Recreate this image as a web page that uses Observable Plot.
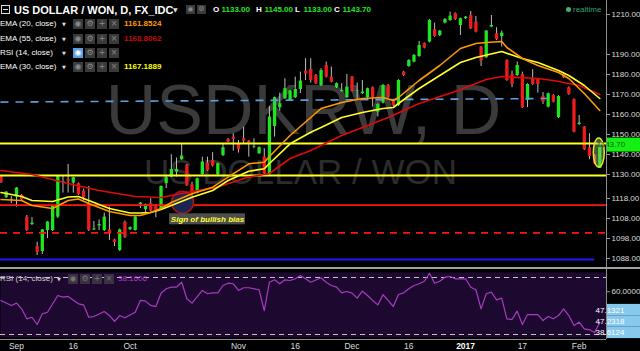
<!DOCTYPE html>
<html><head><meta charset="utf-8">
<script src="https://cdn.jsdelivr.net/npm/d3@7"></script>
<script src="https://cdn.jsdelivr.net/npm/@observablehq/plot@0.6"></script>
<style>
html,body{margin:0;padding:0;background:#000;}
#root{position:relative;width:640px;height:351px;background:#000;overflow:hidden;font-family:"Liberation Sans",Arial,sans-serif;color:#fff;}
.abs{position:absolute;white-space:nowrap;line-height:12px;height:12px;}
</style></head><body>
<div id="root"></div>
<script>
// ---------- DATA ----------
const startIndex = -3; // trading-day index of first candle (Sep 1 2016 = 0)
const open = [
 1129,1118.4,1117.3,1118.7,1119.5,1108.7,1105,1094,1091.5,1102,
 1102,1108.7,1126,1127.4,1125.7,1125.4,1121.7,1115.4,1102.3,1104.3,
 1102,1102.3,1097.3,1092,1106.2,1102.4,1102,1115,1112.4,1115.4,
 1114.5,1112.5,1125.4,1128.7,1131.2,1137.4,1134.5,1124.9,1120.7,1130,
 1135.7,1137,1129.9,1139.5,1147.5,1148.7,1145,1147.9,1146.7,1143.5,
 1140.4,1138.7,1130,1154,1163.4,1167.9,1167,1168.4,1172.5,1181.6,
 1182.5,1179.5,1174.5,1184.5,1178.7,1173.4,1171.4,1168.4,1178.7,1171.5,
 1170.4,1168.4,1173.4,1161.2,1165.7,1174.5,1166.7,1164.5,1181.2,1184,
 1186.2,1189,1195.4,1196.2,1202.4,1199.5,1205.7,1207,1210.4,1204.5,
 1207.9,1209.5,1206.2,1193.7,1188.4,1203.7,1200.4,1199,1187,1180,
 1179.5,1180,1167,1177.5,1177.5,1169,1163.7,1169.5,1158.4,1180,
 1173.4,1167.4,1155,1153.7,1143.4,1139.5,1133];
const high = [
 1129.5,1121.5,1119,1123.5,1120,1109.5,1108.5,1096.2,1102.5,1106.5,
 1114.5,1129.5,1129,1135,1128.7,1125.8,1122.7,1124,1106.5,1107.3,
 1110.7,1113.7,1097.7,1102.7,1106.7,1103.8,1109,1116,1115.2,1117.9,
 1115,1124.3,1129.5,1139.9,1138.2,1145,1135,1126.2,1128.2,1138.7,
 1138.7,1140.9,1135.7,1145.4,1148,1150.4,1147,1153.7,1147,1147.9,
 1143.8,1142.9,1164,1168.7,1170.7,1177.9,1172,1178.7,1181.2,1187.9,
 1187.9,1180,1182.9,1186.2,1183.7,1175.8,1175.4,1180,1179,1175.7,
 1177,1173.2,1173.8,1165.4,1175,1175,1167,1177.4,1181.6,1187.4,
 1190,1196.5,1195.8,1207.4,1205.7,1202,1208,1211.2,1210.8,1208.2,
 1209,1211.5,1209,1194,1202,1209.5,1203.4,1201.7,1187.4,1181.7,
 1186.2,1181.2,1175.4,1182.4,1177.9,1171,1170.7,1169.9,1169.4,1180.4,
 1173.8,1167.8,1159.5,1154,1150.4,1140,1145];
const low = [
 1125.5,1118,1115.5,1113.7,1117,1101.5,1104.5,1089.5,1090,1098,
 1101.5,1108,1120.7,1120.7,1120.7,1119.6,1117,1101.5,1102,1102,
 1101.5,1097,1094,1091.5,1098,1102,1101.7,1113,1110.7,1111.3,
 1108.4,1112,1123,1128.3,1128.7,1137,1124,1118.7,1120.3,1129.7,
 1131.6,1133.7,1129.5,1139,1145.8,1141.7,1140.7,1145.4,1138.7,1142.9,
 1140,1130,1129.5,1148.7,1161.7,1167.5,1166.5,1168,1170.5,1177,
 1175.7,1175,1174,1178.3,1175.8,1173,1171.2,1168,1171.3,1167,
 1170,1168,1163.7,1158.7,1165.3,1168.3,1164,1164,1179,1183.6,
 1185.8,1188.6,1192.8,1195.8,1198.6,1199,1205.3,1206.6,1207,1199.5,
 1207.5,1202.5,1200.8,1184,1188,1203.4,1197,1193.7,1176.6,1173.4,
 1179,1163,1163.4,1174.6,1170.7,1165,1163.3,1165.8,1158,1178,
 1169.6,1150.8,1154.6,1142,1137.4,1135,1133];
const close = [
 1126,1121.2,1117.6,1123.2,1117.5,1102,1105.7,1091,1102.3,1106.2,
 1114,1129,1126.4,1126.7,1128.4,1120,1118.4,1102,1102.8,1105,
 1108.7,1100.7,1096,1102.3,1098.4,1103.4,1108.7,1115.7,1114.9,1111.7,
 1111.2,1124,1128.4,1132.5,1132.5,1139.2,1124.5,1121.2,1127.9,1136.2,
 1132,1134.2,1135.4,1143.4,1146.2,1147.5,1142.4,1146.7,1145.7,1143.8,
 1143.4,1130.4,1158.7,1168.4,1165.4,1172.9,1171.7,1172.5,1176.7,1180.2,
 1177,1175.4,1182,1178.7,1176.2,1175.4,1172,1173.7,1171.7,1171.8,
 1171.2,1172.9,1168.4,1165,1174.5,1168.7,1164.5,1177,1179.5,1187,
 1189.5,1194.5,1193.2,1207,1199,1201.7,1207.5,1209.2,1207.5,1207.9,
 1208.7,1202.9,1201.2,1186.7,1201.7,1204.5,1197.4,1200.7,1177,1175,
 1184.5,1163.4,1175,1175,1175,1166.2,1170.4,1166.2,1169,1178.4,
 1170,1151.2,1155.7,1142.4,1139,1135.4,1143.7];

// EMA values: [trading-day index, value]
const ema20 = [[-3,1117.5],[1,1117],[3,1114.5],[7,1113],[10,1117],[12,1117.75],[14,1115.5],[18,1111.5],[22,1109.5],[24,1109.5],
 [26,1111],[28,1113],[30,1116],[34,1120.35],[38,1123.65],[41,1128.65],[45,1135.35],[48,1136.15],[49,1139],[53,1149.5],
 [57,1158.5],[59,1163],[63,1166],[67,1168],[71,1168.5],[73,1167],[74,1168.5],[78,1177],[82,1184.5],[86,1193],
 [89,1195.5],[91,1196],[94,1196.5],[95,1193.5],[98,1188],[101,1184.5],[105,1181],[107,1178],[110,1170.5],[113,1162]];
const ema30 = [[-3,1121],[1,1119],[3,1117],[7,1116.5],[10,1118.75],[12,1119],[14,1117],[18,1113],[22,1110.75],[24,1110.75],
 [26,1111],[28,1112.5],[30,1114.5],[34,1118.65],[38,1122],[41,1127],[45,1131.65],[48,1132.85],[49,1135.5],[53,1145.35],
 [57,1151.15],[59,1153.5],[63,1158.5],[67,1161],[71,1163],[73,1163.5],[74,1165.5],[78,1173],[82,1179.5],[86,1186],
 [89,1188.5],[94,1191.5],[98,1188],[101,1186],[105,1182],[107,1179.5],[110,1174.5],[113,1168]];
const ema55 = [[-3,1132],[3,1130],[10,1125.5],[16,1122],[23,1119],[28,1118.5],[32,1120.5],[39,1123.7],[45,1128.7],[49,1130.5],
 [53,1138],[57,1142],[63,1149.5],[72,1158.5],[78,1165.5],[85,1171.5],[91,1177.5],[94,1179],[101,1178],[104,1177],
 [109,1174.5],[113,1170]];
const rsi = [[-3,53.9],[-1,50.4],[0,52],[1,48],[2,41],[3,42.1],[4,37],[5,44.5],[6,45.6],[8,57.4],[9,56.2],[10,56.7],
 [12,51.5],[13,50.8],[14,42.1],[15,42.6],[17,46.1],[18,43.3],[19,39.3],[20,43.3],[21,41.7],[23,45.6],[24,53.9],[25,53.4],
 [26,50.4],[27,49.6],[28,59],[29,62.1],[30,63.2],[31,63.2],[32,66.7],[33,55.1],[34,52],[36,60.9],[37,58.6],[38,59.2],
 [39,59.2],[40,64.4],[41,66],[42,65.6],[43,60.9],[44,62.8],[45,62.8],[47,61.4],[48,46.8],[49,66.7],[50,68.4],[51,65.6],
 [52,68.4],[53,67.9],[54,69.1],[55,71.4],[56,69.1],[57,66.7],[59,69.8],[60,66.7],[61,64.4],[62,63.2],[63,59.2],[64,60.2],
 [65,59],[66,55.5],[67,60.4],[68,57.4],[69,53.9],[70,50.8],[71,57.9],[72,53.9],[73,49.6],[74,58.1],[75,59.2],[76,62.1],
 [77,64.4],[78,65.6],[79,67.4],[80,73],[81,66],[82,67.4],[83,70.2],[84,70.7],[85,69.1],[86,69.1],[87,69.1],[88,63.2],
 [89,61.4],[90,48],[91,58.6],[92,59.7],[93,54.3],[94,55.5],[95,41],[96,40.5],[97,46.4],[98,37],[99,44],[101,44],
 [102,39.8],[103,42.6],[104,41],[105,43.3],[106,48],[107,43.3],[108,36.3],[109,38.6],[110,34],[111,33.3],[112,31.4],[113,38.4]];

// drawn levels
const yellowLevels = [1145.5, 1129.5];
const redLevels = [1114.7];
const redDashedLevels = [1100.8];
const blueTrend = [{x1: -3.1, y1: 1166.2, x2: 103, y2: 1168}];
const blueLevel = [{x1: -3.1, x2: 112, y: 1087.5}];
const rsiBands = [70, 30];

// annotation
const bullishMark = [{i: 32.16, p: 1116.15}];
const bullishBox = [{x1: 29.64, x2: 44.36, y1: 1104.85, y2: 1110.35}];
const bullishLabel = [{i: 37, p: 1107.6, text: "Sign of bullish bias"}];
const highlightCenter = [112.9, 1140.8];

// axes
const xDomain = [-3.1, 114.3];
const priceTicks = [1210,1190,1180,1170,1160,1150,1140,1130,1118,1108,1098,1088];
const xTicks = [0,11,22,43,54,65,76,87,98,109];
const xTickLabels = ["Sep","16","Oct","Nov","16","Dec","16","2017","17","Feb"];
const rsiTicks = [60];

// legend texts
const title = "US DOLLAR / WON, D, FX_IDC";
const ohlcLetters = ["O","H","L","C"];
const indicatorNames = ["EMA (20, close)","EMA (55, close)","RSI (14, close)","EMA (30, close)"];
const indicatorValues = ["1161.8524","1168.8062","","1167.1889"];
const rsiLegendValue = "38.1606";
const rsiLabelTexts = ["47.1321","47.2318","38.6124"];
const rsiLabelFirst = 47.1321;

// ---------- BUILD ----------
const candles = open.map((o, k) => ({i: startIndex + k, o, h: high[k], l: low[k], c: close[k]}));
const up = candles.filter(d => d.c >= d.o);
const down = candles.filter(d => d.c < d.o);
const toPts = a => a.map(([i, v]) => ({i, v}));
const FONT = "Liberation Sans, Arial, sans-serif";
const root = document.getElementById("root");

const priceSvg = Plot.plot({
  width: 640, height: 268, marginTop: 0, marginBottom: 0, marginLeft: 0, marginRight: 34,
  style: {background: "transparent", color: "#dcdcdc", fontFamily: FONT, fontSize: "8px", overflow: "visible"},
  x: {domain: xDomain, axis: null},
  y: {domain: [1083, 1217], axis: null},
  marks: [
    Plot.text(["USDKRW, D"], {text: d => d, frameAnchor: "top", dy: 133, lineAnchor: "bottom", fontSize: 70, fill: "#3a3a3a", fontFamily: FONT}),
    Plot.text(["US DOLLAR / WON"], {text: d => d, frameAnchor: "top", dx: -3, dy: 183, lineAnchor: "bottom", fontSize: 35, fill: "#2c2c2c", fontFamily: FONT}),
    Plot.ruleX(candles, {x: "i", y1: "l", y2: "h", stroke: "#bdbdbd", strokeWidth: 1}),
    Plot.ruleX(up, {x: "i", y1: "o", y2: "c", stroke: "#1ee61e", strokeWidth: 3.3}),
    Plot.ruleX(down, {x: "i", y1: "o", y2: "c", stroke: "#ee1c1c", strokeWidth: 3.3}),
    Plot.ruleY(yellowLevels, {stroke: "#ffff1e", strokeWidth: 1.8}),
    Plot.ruleY(redLevels, {stroke: "#ff1414", strokeWidth: 1.8}),
    Plot.ruleY(redDashedLevels, {stroke: "#ff1414", strokeWidth: 1.8, strokeDasharray: "7,6"}),
    Plot.link(blueTrend, {x1: "x1", y1: "y1", x2: "x2", y2: "y2", stroke: "#5a9fe0", strokeWidth: 1.6, strokeDasharray: "8,7"}),
    Plot.ruleY(blueLevel, {y: "y", x1: "x1", x2: "x2", stroke: "#1a1aff", strokeWidth: 2}),
    Plot.dot(bullishMark, {x: "i", y: "p", r: 11, fill: "#1b2552", stroke: "#a81616", strokeWidth: 1.5}),
    Plot.line(toPts(ema55), {x: "i", y: "v", stroke: "#e00a0a", strokeWidth: 1.6}),
    Plot.line(toPts(ema30), {x: "i", y: "v", stroke: "#ffff2a", strokeWidth: 1.6}),
    Plot.line(toPts(ema20), {x: "i", y: "v", stroke: "#ff9a00", strokeWidth: 1.6}),
    Plot.rect(bullishBox, {x1: "x1", x2: "x2", y1: "y1", y2: "y2", fill: "#4d4d4d"}),
    Plot.text(bullishLabel, {x: "i", y: "p", text: "text", fill: "#ffff33", fontSize: 8, fontStyle: "italic", fontWeight: "bold", fontFamily: FONT}),
    Plot.axisY({anchor: "right", label: null, ticks: priceTicks, tickFormat: d => d.toFixed(2), tickSize: 3, tickPadding: 2, fontSize: 8, stroke: "#9a9a9a"})
  ]
});
priceSvg.style.position = "absolute"; priceSvg.style.left = "0px"; priceSvg.style.top = "0px";
root.appendChild(priceSvg);

{
  const xs = priceSvg.scale("x"), ys = priceSvg.scale("y");
  const g = d3.select(priceSvg).append("g");
  g.append("ellipse").attr("cx", xs.apply(highlightCenter[0])).attr("cy", ys.apply(highlightCenter[1]))
    .attr("rx", 5.5).attr("ry", 14.5).attr("fill", "rgba(150,205,120,0.45)").attr("stroke", "#e6e62a").attr("stroke-width", 1.5);
  const lastClose = close[close.length - 1];
  const yc = ys.apply(lastClose);
  g.append("rect").attr("x", 606).attr("y", yc - 9).attr("width", 34).attr("height", 14).attr("fill", "#14f014");
  g.append("text").attr("x", 611).attr("y", yc + 0.5).attr("fill", "#0b5a0b").attr("font-size", 8).attr("font-family", FONT).text(lastClose.toFixed(2));
}

const rsiSvg = Plot.plot({
  width: 640, height: 83, marginTop: 4, marginBottom: 14, marginLeft: 0, marginRight: 34,
  style: {background: "transparent", color: "#dcdcdc", fontFamily: FONT, fontSize: "8px", overflow: "visible"},
  x: {domain: xDomain, axis: null},
  y: {domain: [27.89, 73.51], axis: null},
  marks: [
    Plot.frame({fill: "#1d0930", stroke: "none"}),
    Plot.ruleY(rsiBands, {stroke: "#c4c4c4", strokeWidth: 1, strokeDasharray: "5,4"}),
    Plot.line(toPts(rsi), {x: "i", y: "v", stroke: "#a83cc0", strokeWidth: 1.2}),
    Plot.axisY({anchor: "right", label: null, ticks: rsiTicks, tickFormat: d => d.toFixed(4), tickSize: 3, tickPadding: 2, fontSize: 8, stroke: "#9a9a9a"}),
    Plot.axisX({anchor: "bottom", label: null, ticks: xTicks, tickFormat: d => xTickLabels[xTicks.indexOf(d)], tickSize: 0, tickPadding: 5, fontSize: 8.5})
  ]
});
rsiSvg.style.position = "absolute"; rsiSvg.style.left = "0px"; rsiSvg.style.top = "268px";
root.appendChild(rsiSvg);
d3.select(rsiSvg).selectAll("text").filter(function(){ return this.textContent === "2017"; })
  .attr("font-weight", "bold").attr("fill", "#ffffff");

{
  const ry = rsiSvg.scale("y");
  const g = d3.select(rsiSvg).append("g");
  const y0 = ry.apply(rsiLabelFirst);
  rsiLabelTexts.forEach((t, k) => {
    const cy = y0 + k * 11.4;
    g.append("rect").attr("x", 606).attr("y", cy - 5.7).attr("width", 34).attr("height", 11.4).attr("fill", "#86c8ee");
    g.append("text").attr("x", 610).attr("y", cy + 3).attr("fill", "#ffffff").attr("font-size", 8).attr("font-family", FONT).text(t);
  });
}

// ---------- FRAME LINES & LEGEND OVERLAY ----------
function put(html, left, top, css) {
  const d = document.createElement("div");
  d.className = "abs";
  d.innerHTML = html;
  d.style.left = left + "px"; d.style.top = top + "px";
  if (css) Object.assign(d.style, css);
  root.appendChild(d);
  return d;
}
function icon(left, top, size, bg, glyph, color) {
  return put(glyph, left, top, {width: size + "px", height: size + "px", background: bg, color: color,
    fontSize: (size - 2) + "px", lineHeight: size + "px", textAlign: "center", fontFamily: "DejaVu Sans, sans-serif"});
}
put("", 606, 0, {width: "1px", height: "339px", background: "#8c8c8c"});
put("", 0, 267, {width: "640px", height: "1.5px", background: "#a0a0a0"});
put("", 0, 338.5, {width: "606px", height: "1.2px", background: "#8c8c8c"});

// row 1
put("", 1, 5, {width: "7px", height: "7px", border: "1px solid #dddddd"});
put("", 3, 9, {width: "5px", height: "1px", background: "#dddddd"});
put(title, 14, 3.5, {fontSize: "11px", fontWeight: "bold", color: "#ffffff"});
put("▼", 173, 4, {fontSize: "6px", color: "#dddddd", fontFamily: "DejaVu Sans, sans-serif"});
icon(186, 5, 9, "#3a3a3a", "◉", "#8a8a8a");
icon(197, 5, 9, "#3a3a3a", "⚙", "#8a8a8a");
const lastK = close.length - 1;
const ohlcValues = [open[lastK], high[lastK], low[lastK], close[lastK]];
const ohlcLeft = [213, 256, 295, 334];
ohlcLetters.forEach((L, k) => {
  put(L, ohlcLeft[k], 4, {fontSize: "8px", fontWeight: "bold", color: "#ffffff"});
  put(ohlcValues[k].toFixed(2), ohlcLeft[k] + 8.5, 4, {fontSize: "8px", fontWeight: "bold", color: "#22e622"});
});
put("realtime", 573, 4, {fontSize: "8px", color: "#33a06a"});
put("", 565.5, 7, {width: "5px", height: "5px", borderRadius: "50%", background: "#3cb371"});

// indicator rows
const rowCenters = [24, 38.5, 53, 67];
const valueColors = ["#ff9d00", "#c40c0c", "#ffffff", "#ffff00"];
indicatorNames.forEach((name, k) => {
  const cy = rowCenters[k];
  put(name, 0, cy - 6, {fontSize: "8px", color: "#ffffff"});
  put("▼", 62, cy - 6, {fontSize: "5px", color: "#dddddd", fontFamily: "DejaVu Sans, sans-serif"});
  const glyphs = ["◉", "⚙", "+", "×"];
  glyphs.forEach((gl, j) => {
    const isEye = (k === 2 && j === 0);
    icon(73 + j * 12, cy - 5, 10, isEye ? "#5aa0e0" : "#3a3a3a", gl, isEye ? "#ffffff" : "#8a8a8a");
  });
  if (indicatorValues[k]) put(indicatorValues[k], 124, cy - 6, {fontSize: "8px", fontWeight: "bold", color: valueColors[k]});
});

// RSI pane legend
put(indicatorNames[2], 0, 273, {fontSize: "8px", color: "#cfcfcf"});
put("▼", 57, 273, {fontSize: "5px", color: "#cfcfcf", fontFamily: "DejaVu Sans, sans-serif"});
["◉", "⚙", "+", "×"].forEach((gl, j) => icon(68 + j * 12, 274, 10, "#3a3040", gl, "#777777"));
put(rsiLegendValue, 118, 273, {fontSize: "8px", color: "#b040c0"});
</script>
</body></html>
